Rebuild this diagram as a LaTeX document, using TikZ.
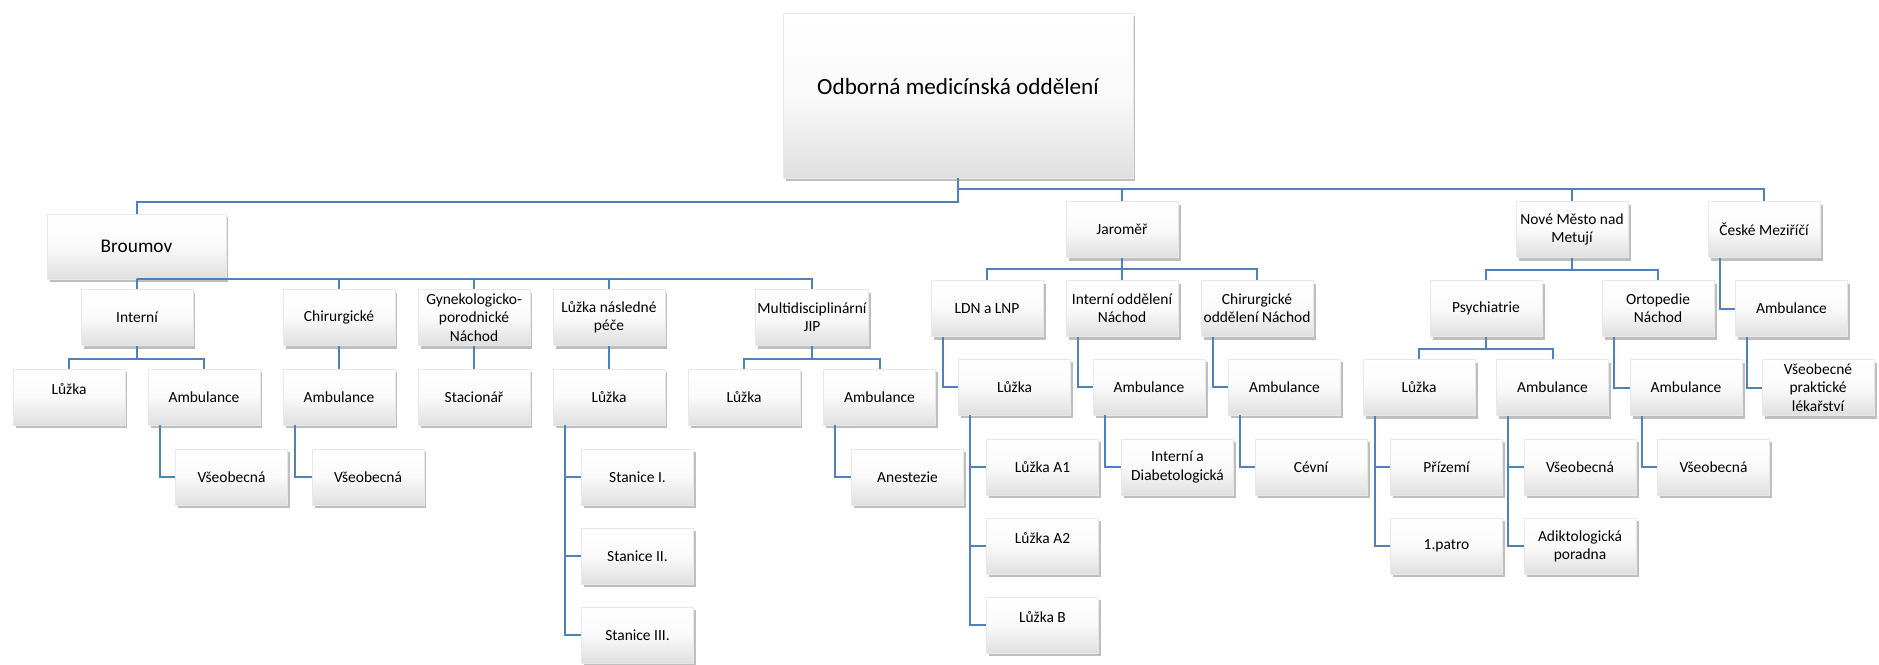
\documentclass[tikz,border=0pt]{standalone}
\usepackage{fontspec}
\setmainfont{Carlito}
\usetikzlibrary{shadows}
\definecolor{linkblue}{RGB}{79,129,189}

\begin{document}
\begin{tikzpicture}[x=0.02cm, y=-0.02cm,
    box/.style={draw=gray!18, top color=white, bottom color=gray!25, middle color=white!96!gray,
        drop shadow={opacity=.5, shadow xshift=.05cm, shadow yshift=-.06cm},
        minimum width=2.24cm, minimum height=1.12cm, inner sep=1pt, align=center,
        font=\fontsize{8.8}{10.4}\selectfont},
    raised/.style={text depth=.32cm},
    link/.style={draw=linkblue, line width=.04cm}]
    \useasboundingbox (0,0) rectangle (1879,664);

    % top
    \node[box, minimum width=7cm, minimum height=3.3cm, text depth=.36cm, font=\fontsize{13.2}{15}\selectfont] (root) at (958,95.5) {Odborná medicínská oddělení};
    \node[box, minimum width=3.58cm, minimum height=1.3cm, font=\fontsize{11}{13}\selectfont] (broumov) at (136.5,246.5) {Broumov};
    \node[box] (jaromer) at (1122,229.5) {Jaroměř};
    \node[box] (nove) at (1572,229.5) {Nové Město nad\\Metují};
    \node[box] (ceske) at (1764,229.5) {České Meziříčí};

    % Broumov
    \node[box] (interni) at (137,317.5) {Interní};
    \node[box] (chir) at (339,317.5) {Chirurgické};
    \node[box] (gyn) at (474,317.5) {Gynekologicko-\\porodnické\\Náchod};
    \node[box] (lnp) at (609,317.5) {Lůžka následné\\péče};
    \node[box] (jip) at (812,317.5) {Multidisciplinární\\JIP};
    \node[box, raised] (intLuzka) at (69,397) {Lůžka};
    \node[box] (intAmb) at (204,397) {Ambulance};
    \node[box] (chirAmb) at (339,397) {Ambulance};
    \node[box] (stac) at (474,397) {Stacionář};
    \node[box] (lnpLuzka) at (609,397) {Lůžka};
    \node[box] (jipLuzka) at (744,397) {Lůžka};
    \node[box] (jipAmb) at (879.5,397) {Ambulance};
    \node[box] (intVseob) at (231.5,477) {Všeobecná};
    \node[box] (chirVseob) at (368,477) {Všeobecná};
    \node[box] (stanice1) at (637.5,477) {Stanice I.};
    \node[box] (stanice2) at (637.5,556) {Stanice II.};
    \node[box] (stanice3) at (637.5,635) {Stanice III.};
    \node[box] (anest) at (907.5,477) {Anestezie};

    % Jaromer
    \node[box] (ldn) at (987,308.5) {LDN a LNP};
    \node[box] (intNachod) at (1122,308.5) {Interní oddělení\\Náchod};
    \node[box] (chirNachod) at (1257,308.5) {Chirurgické\\oddělení Náchod};
    \node[box] (ldnLuzka) at (1014.5,387) {Lůžka};
    \node[box] (intNAmb) at (1149,387) {Ambulance};
    \node[box] (chirNAmb) at (1284.5,387) {Ambulance};
    \node[box] (luzkaA1) at (1042.5,467) {Lůžka A1};
    \node[box, raised] (luzkaA2) at (1042.5,546) {Lůžka A2};
    \node[box, raised] (luzkaB) at (1042.5,625) {Lůžka B};
    \node[box] (diab) at (1177.5,467) {Interní a\\Diabetologická};
    \node[box] (cevni) at (1311,467) {Cévní};

    % Nove Mesto, Ceske Mezirici
    \node[box] (psych) at (1486,308.5) {Psychiatrie};
    \node[box] (ortop) at (1658,308.5) {Ortopedie\\Náchod};
    \node[box] (ceskeAmb) at (1791.5,308.5) {Ambulance};
    \node[box] (psLuzka) at (1419,387.5) {Lůžka};
    \node[box] (psAmb) at (1552.5,387.5) {Ambulance};
    \node[box] (ortAmb) at (1686,387.5) {Ambulance};
    \node[box] (vpl) at (1818,387.5) {Všeobecné\\praktické\\lékařství};
    \node[box] (prizemi) at (1446.5,467) {Přízemí};
    \node[box] (patro) at (1446.5,546) {1.patro};
    \node[box] (psVseob) at (1580,467) {Všeobecná};
    \node[box] (adikt) at (1580,546) {Adiktologická\\poradna};
    \node[box] (ortVseob) at (1713.5,467) {Všeobecná};

    % connectors
    \draw[link] (root.south) -- ++(0,24) -| (broumov.north);
    \draw[link] (root.south) -- ++(0,11) -| (ceske.north)
        (jaromer.north) |- ++(0,-13) (nove.north) |- ++(0,-13);
    \draw[link] (broumov.south) -| (interni.north) (broumov.south) -| (chir.north)
        (broumov.south) -| (gyn.north) (broumov.south) -| (lnp.north)
        (broumov.south) -| (jip.north);
    \draw[link] (interni.south) -- ++(0,13) -| (intLuzka.north)
        (interni.south) -- ++(0,13) -| (intAmb.north);
    \draw[link] (chir) -- (chirAmb) (gyn) -- (stac) (lnp) -- (lnpLuzka);
    \draw[link] (jip.south) -- ++(0,13) -| (jipLuzka.north)
        (jip.south) -- ++(0,13) -| (jipAmb.north);
    \draw[link] ([xshift=.24cm]intAmb.south west) |- (intVseob.west);
    \draw[link] ([xshift=.24cm]chirAmb.south west) |- (chirVseob.west);
    \draw[link] ([xshift=.24cm]lnpLuzka.south west) |- (stanice1.west)
        ([xshift=.24cm]lnpLuzka.south west) |- (stanice2.west)
        ([xshift=.24cm]lnpLuzka.south west) |- (stanice3.west);
    \draw[link] ([xshift=.24cm]jipAmb.south west) |- (anest.west);

    \draw[link] (jaromer.south) -- ++(0,11) -| (ldn.north)
        (jaromer.south) -- (intNachod.north)
        (jaromer.south) -- ++(0,11) -| (chirNachod.north);
    \draw[link] ([xshift=.24cm]ldn.south west) |- (ldnLuzka.west);
    \draw[link] ([xshift=.24cm]ldnLuzka.south west) |- (luzkaA1.west)
        ([xshift=.24cm]ldnLuzka.south west) |- (luzkaA2.west)
        ([xshift=.24cm]ldnLuzka.south west) |- (luzkaB.west);
    \draw[link] ([xshift=.24cm]intNachod.south west) |- (intNAmb.west);
    \draw[link] ([xshift=.24cm]intNAmb.south west) |- (diab.west);
    \draw[link] ([xshift=.24cm]chirNachod.south west) |- (chirNAmb.west);
    \draw[link] ([xshift=.24cm]chirNAmb.south west) |- (cevni.west);

    \draw[link] (nove.south) -- ++(0,12) -| (psych.north)
        (nove.south) -- ++(0,12) -| (ortop.north);
    \draw[link] (psych.south) -- ++(0,12) -| (psLuzka.north)
        (psych.south) -- ++(0,12) -| (psAmb.north);
    \draw[link] ([xshift=.24cm]ortop.south west) |- (ortAmb.west);
    \draw[link] ([xshift=.24cm]ceske.south west) |- (ceskeAmb.west);
    \draw[link] ([xshift=.24cm]ceskeAmb.south west) |- (vpl.west);
    \draw[link] ([xshift=.24cm]psLuzka.south west) |- (prizemi.west)
        ([xshift=.24cm]psLuzka.south west) |- (patro.west);
    \draw[link] ([xshift=.24cm]psAmb.south west) |- (psVseob.west)
        ([xshift=.24cm]psAmb.south west) |- (adikt.west);
    \draw[link] ([xshift=.24cm]ortAmb.south west) |- (ortVseob.west);
\end{tikzpicture}
\end{document}
